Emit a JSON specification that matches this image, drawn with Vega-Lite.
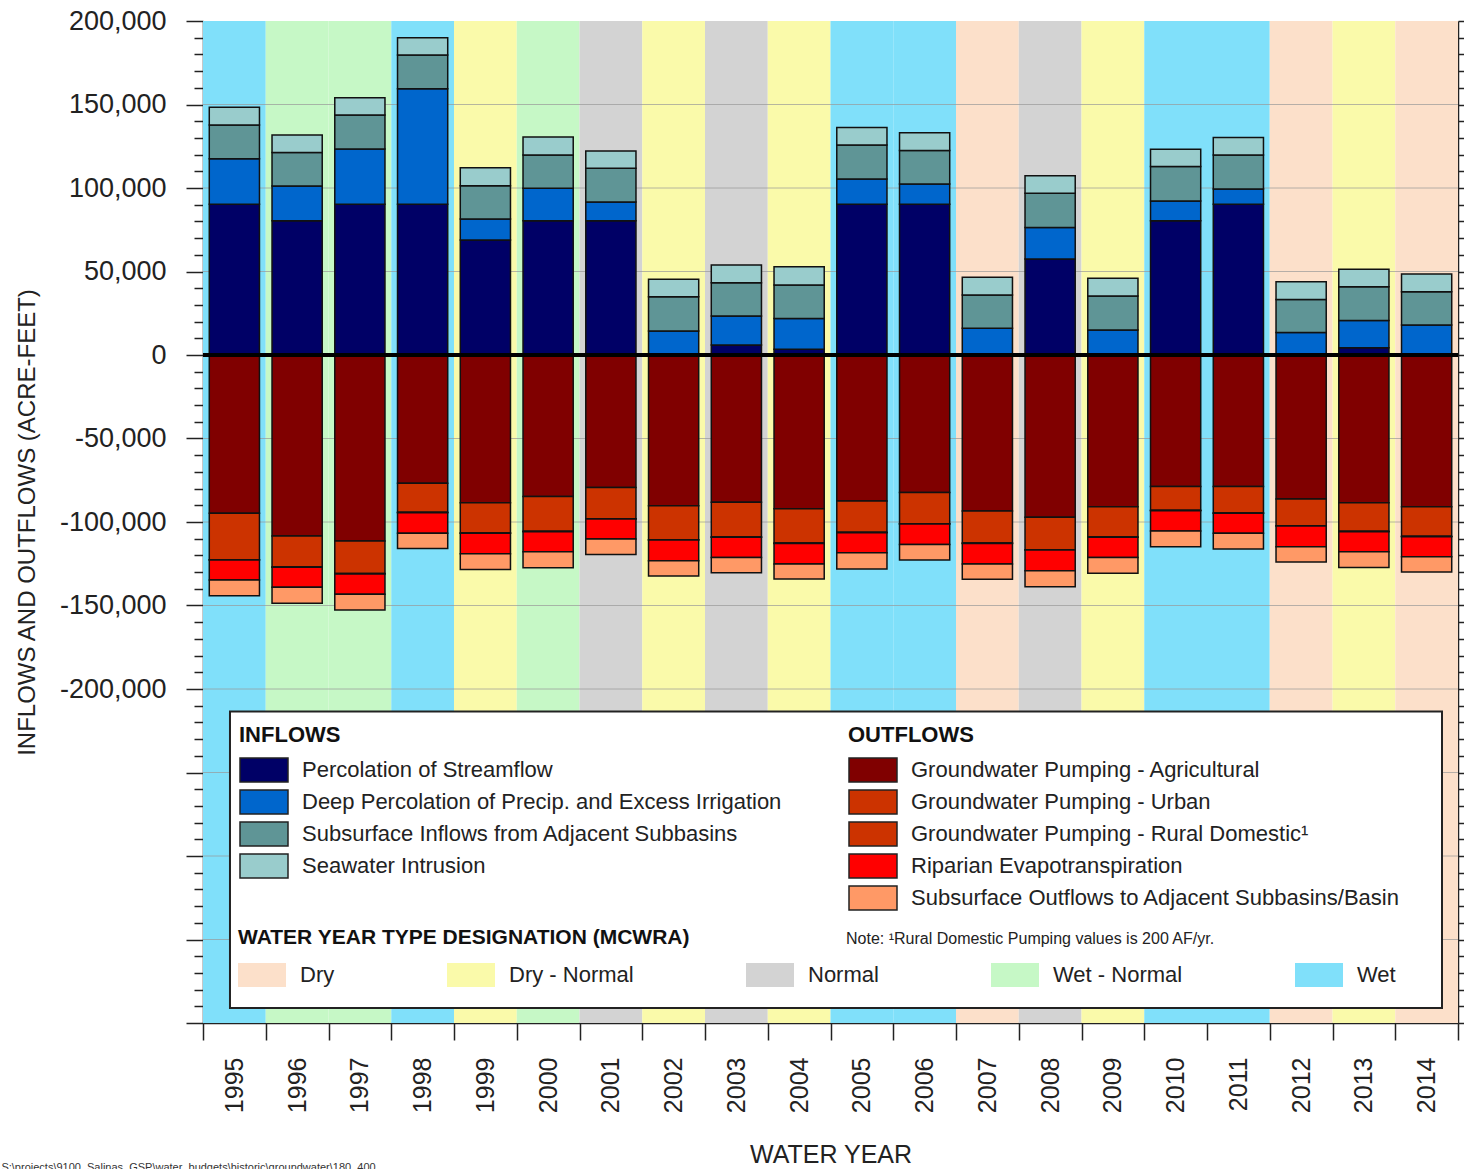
{
  "$schema": "https://vega.github.io/schema/vega-lite/v6.json",
  "width": 1255,
  "height": 1002,
  "autosize": "none",
  "padding": {"left": 203, "top": 21, "right": 6, "bottom": 146},
  "background": "white",
  "config": {"font": "Liberation Sans", "view": {"stroke": null}},
  "title": {"text": "S:\\projects\\9100_Salinas_GSP\\water_budgets\\historic\\groundwater\\180_400", "orient": "bottom", "anchor": "start", "frame": "bounds", "fontSize": 11, "fontWeight": "normal", "color": "#333", "offset": 0, "dy": -6, "dx": -14},
  "datasets": {
    "years": [
      {"year": 1995, "type": "Wet"}, {"year": 1996, "type": "Wet - Normal"}, {"year": 1997, "type": "Wet - Normal"}, {"year": 1998, "type": "Wet"},
      {"year": 1999, "type": "Dry - Normal"}, {"year": 2000, "type": "Wet - Normal"}, {"year": 2001, "type": "Normal"}, {"year": 2002, "type": "Dry - Normal"},
      {"year": 2003, "type": "Normal"}, {"year": 2004, "type": "Dry - Normal"}, {"year": 2005, "type": "Wet"}, {"year": 2006, "type": "Wet"},
      {"year": 2007, "type": "Dry"}, {"year": 2008, "type": "Normal"}, {"year": 2009, "type": "Dry - Normal"}, {"year": 2010, "type": "Wet"},
      {"year": 2011, "type": "Wet"}, {"year": 2012, "type": "Dry"}, {"year": 2013, "type": "Dry - Normal"}, {"year": 2014, "type": "Dry"}
    ],
    "inflows": [
      {"year": 1995, "a": 90200, "b": 27300, "c": 20200, "d": 10600},
      {"year": 1996, "a": 80400, "b": 20800, "c": 20000, "d": 10500},
      {"year": 1997, "a": 90200, "b": 33200, "c": 20300, "d": 10300},
      {"year": 1998, "a": 90200, "b": 69300, "c": 20100, "d": 10400},
      {"year": 1999, "a": 68900, "b": 12500, "c": 20000, "d": 10700},
      {"year": 2000, "a": 80400, "b": 19400, "c": 20000, "d": 10700},
      {"year": 2001, "a": 80400, "b": 11200, "c": 20200, "d": 10400},
      {"year": 2002, "a": 0, "b": 14400, "c": 20500, "d": 10400},
      {"year": 2003, "a": 6000, "b": 17400, "c": 19900, "d": 10600},
      {"year": 2004, "a": 3400, "b": 18500, "c": 20000, "d": 11000},
      {"year": 2005, "a": 90200, "b": 15200, "c": 20300, "d": 10600},
      {"year": 2006, "a": 90200, "b": 12200, "c": 20000, "d": 10700},
      {"year": 2007, "a": 0, "b": 16000, "c": 19900, "d": 10600},
      {"year": 2008, "a": 57500, "b": 18900, "c": 20400, "d": 10600},
      {"year": 2009, "a": 0, "b": 15000, "c": 20300, "d": 10600},
      {"year": 2010, "a": 80400, "b": 11800, "c": 20600, "d": 10400},
      {"year": 2011, "a": 90200, "b": 9200, "c": 20400, "d": 10500},
      {"year": 2012, "a": 0, "b": 13400, "c": 19900, "d": 10600},
      {"year": 2013, "a": 4400, "b": 16200, "c": 20300, "d": 10400},
      {"year": 2014, "a": 0, "b": 18000, "c": 19900, "d": 10600}
    ],
    "outflows": [
      {"year": 1995, "a": -94800, "b": -27800, "c": -200, "d": -11900, "e": -9400},
      {"year": 1996, "a": -108400, "b": -18500, "c": -200, "d": -12000, "e": -9600},
      {"year": 1997, "a": -111400, "b": -19500, "c": -200, "d": -12200, "e": -9400},
      {"year": 1998, "a": -76800, "b": -17400, "c": -200, "d": -12400, "e": -9000},
      {"year": 1999, "a": -88400, "b": -18200, "c": -200, "d": -12200, "e": -9400},
      {"year": 2000, "a": -84800, "b": -20800, "c": -200, "d": -12000, "e": -9600},
      {"year": 2001, "a": -79400, "b": -18600, "c": -200, "d": -12000, "e": -9200},
      {"year": 2002, "a": -90200, "b": -20400, "c": -200, "d": -12400, "e": -9100},
      {"year": 2003, "a": -88200, "b": -20800, "c": -200, "d": -12000, "e": -9200},
      {"year": 2004, "a": -92000, "b": -20600, "c": -200, "d": -12300, "e": -9000},
      {"year": 2005, "a": -87400, "b": -18800, "c": -200, "d": -12000, "e": -9700},
      {"year": 2006, "a": -82400, "b": -18600, "c": -200, "d": -12200, "e": -9400},
      {"year": 2007, "a": -93400, "b": -19200, "c": -200, "d": -12300, "e": -9200},
      {"year": 2008, "a": -97200, "b": -19400, "c": -200, "d": -12400, "e": -9600},
      {"year": 2009, "a": -90800, "b": -18200, "c": -200, "d": -12000, "e": -9500},
      {"year": 2010, "a": -78800, "b": -14200, "c": -200, "d": -12200, "e": -9400},
      {"year": 2011, "a": -78800, "b": -15800, "c": -200, "d": -12000, "e": -9400},
      {"year": 2012, "a": -86200, "b": -16000, "c": -200, "d": -12400, "e": -9200},
      {"year": 2013, "a": -88400, "b": -17200, "c": -200, "d": -12000, "e": -9400},
      {"year": 2014, "a": -90800, "b": -17800, "c": -200, "d": -12000, "e": -9200}
    ],
    "infcat": [
      {"key": "a", "cat": "Percolation of Streamflow"},
      {"key": "b", "cat": "Deep Percolation of Precip. and Excess Irrigation"},
      {"key": "c", "cat": "Subsurface Inflows from Adjacent Subbasins"},
      {"key": "d", "cat": "Seawater Intrusion"}
    ],
    "outcat": [
      {"key": "a", "cat": "Groundwater Pumping - Agricultural"},
      {"key": "b", "cat": "Groundwater Pumping - Urban"},
      {"key": "c", "cat": "Groundwater Pumping - Rural Domestic¹"},
      {"key": "d", "cat": "Riparian Evapotranspiration"},
      {"key": "e", "cat": "Subsurface Outflows to Adjacent Subbasins/Basin"}
    ],
    "grid": [
      {"v": -350000}, {"v": -300000}, {"v": -250000}, {"v": -200000}, {"v": -150000}, {"v": -100000}, {"v": -50000},
      {"v": 50000}, {"v": 100000}, {"v": 150000}
    ]
  },
  "layer": [
    {
      "data": {"name": "years"},
      "mark": {"type": "bar", "width": {"band": 1}},
      "encoding": {
        "x": {"field": "year", "type": "ordinal", "scale": {"paddingInner": 0, "paddingOuter": 0},
          "axis": {"orient": "bottom", "title": "WATER YEAR", "titleFontSize": 25, "titleFontWeight": "normal", "titleColor": "#222", "titlePadding": 30,
            "labelAngle": -90, "labelFontSize": 25, "labelColor": "#222", "labelPadding": 17,
            "tickBand": "extent", "tickSize": 17, "tickColor": "#222", "tickWidth": 1.5, "domainColor": "#222", "domainWidth": 1.5}},
        "y": {"datum": 200000, "type": "quantitative", "scale": {"domain": [-400000, 200000], "nice": false, "zero": false},
          "axis": {"orient": "left", "title": "INFLOWS AND OUTFLOWS (ACRE-FEET)", "titleFontSize": 24, "titleFontWeight": "normal", "titleColor": "#222", "titlePadding": 20,
            "values": [-400000,-390000,-380000,-370000,-360000,-350000,-340000,-330000,-320000,-310000,-300000,-290000,-280000,-270000,-260000,-250000,-240000,-230000,-220000,-210000,-200000,-190000,-180000,-170000,-160000,-150000,-140000,-130000,-120000,-110000,-100000,-90000,-80000,-70000,-60000,-50000,-40000,-30000,-20000,-10000,0,10000,20000,30000,40000,50000,60000,70000,80000,90000,100000,110000,120000,130000,140000,150000,160000,170000,180000,190000,200000],
            "format": ",d",
            "labelExpr": "(datum.value % 50000 === 0 && datum.value >= -200000) ? replace(datum.label, '\u2212', '-') : ''",
            "labelFontSize": 27, "labelColor": "#222", "labelPadding": 20, "labelOverlap": false, "labelFlush": false,
            "tickSize": {"condition": {"test": "datum.value % 50000 === 0", "value": 17}, "value": 9},
            "tickColor": "#222", "tickWidth": 1.5, "domainColor": "#222", "domainWidth": 1.5, "grid": false}},
        "y2": {"datum": -400000},
        "color": {"field": "type", "type": "nominal",
          "scale": {"domain": ["Dry", "Dry - Normal", "Normal", "Wet - Normal", "Wet"], "range": ["#FCE0CA", "#FAFAAA", "#D3D3D3", "#C6F8C6", "#80E0FA"]},
          "legend": {"title": "WATER YEAR TYPE DESIGNATION (MCWRA)", "orient": "none", "legendX": 35, "legendY": 906, "direction": "horizontal", "columns": 5, "columnPadding": 112,
            "titleFontSize": 21, "titleFontWeight": "bold", "titleColor": "#111", "titlePadding": 3, "titleLimit": 1000, "padding": 0,
            "labelFontSize": 22, "labelColor": "#222", "labelOffset": 14, "labelLimit": 600,
            "symbolType": "M-1,-0.5H1V0.5H-1Z", "symbolSize": 2304, "symbolStrokeWidth": 0, "symbolOpacity": 1}}
      }
    },
    {
      "data": {"name": "grid"},
      "mark": {"type": "rule", "color": "#999", "strokeWidth": 1, "opacity": 0.7},
      "encoding": {"y": {"field": "v", "type": "quantitative", "axis": null}}
    },
    {
      "data": {"name": "inflows"},
      "transform": [
        {"fold": ["a", "b", "c", "d"], "as": ["key", "v"]},
        {"lookup": "key", "from": {"data": {"name": "infcat"}, "key": "key", "fields": ["cat"]}}
      ],
      "mark": {"type": "bar", "width": {"band": 0.8}, "stroke": "#111", "strokeWidth": 1.5},
      "encoding": {
        "x": {"field": "year", "type": "ordinal", "axis": null},
        "y": {"field": "v", "type": "quantitative", "stack": "zero", "axis": null},
        "order": {"field": "key", "type": "nominal", "sort": "ascending"},
        "color": {"field": "cat", "type": "nominal",
          "scale": {"domain": ["Percolation of Streamflow", "Deep Percolation of Precip. and Excess Irrigation", "Subsurface Inflows from Adjacent Subbasins", "Seawater Intrusion"],
            "range": ["#000066", "#0066CC", "#5F9596", "#99CCCC"]},
          "legend": {"title": "INFLOWS", "orient": "none", "legendX": 36, "legendY": 704, "direction": "vertical",
            "titleFontSize": 22, "titleFontWeight": "bold", "titleColor": "#111", "titlePadding": 10, "padding": 0,
            "labelFontSize": 22, "labelColor": "#222", "labelOffset": 37, "labelLimit": 800, "rowPadding": 2,
            "symbolType": "M-1,-1H3V1H-1Z", "symbolSize": 576, "symbolStrokeColor": "#222", "symbolStrokeWidth": 1.5, "symbolOpacity": 1}}
      }
    },
    {
      "data": {"name": "outflows"},
      "transform": [
        {"fold": ["a", "b", "c", "d", "e"], "as": ["key", "v"]},
        {"lookup": "key", "from": {"data": {"name": "outcat"}, "key": "key", "fields": ["cat"]}}
      ],
      "mark": {"type": "bar", "width": {"band": 0.8}, "stroke": "#111", "strokeWidth": 1.5},
      "encoding": {
        "x": {"field": "year", "type": "ordinal", "axis": null},
        "y": {"field": "v", "type": "quantitative", "stack": "zero", "axis": null},
        "order": {"field": "key", "type": "nominal", "sort": "ascending"},
        "color": {"field": "cat", "type": "nominal",
          "scale": {"domain": ["Groundwater Pumping - Agricultural", "Groundwater Pumping - Urban", "Groundwater Pumping - Rural Domestic¹", "Riparian Evapotranspiration", "Subsurface Outflows to Adjacent Subbasins/Basin"],
            "range": ["#800000", "#CC3300", "#CC3300", "#FF0000", "#FF9966"]},
          "legend": {"title": "OUTFLOWS", "orient": "none", "legendX": 645, "legendY": 704, "direction": "vertical",
            "titleFontSize": 22, "titleFontWeight": "bold", "titleColor": "#111", "titlePadding": 10, "padding": 0,
            "labelFontSize": 22, "labelColor": "#222", "labelOffset": 37, "labelLimit": 800, "rowPadding": 2,
            "symbolType": "M-1,-1H3V1H-1Z", "symbolSize": 576, "symbolStrokeColor": "#222", "symbolStrokeWidth": 1.5, "symbolOpacity": 1}}
      }
    },
    {
      "data": {"values": [{}]},
      "mark": {"type": "rule", "color": "#000", "strokeWidth": 4},
      "encoding": {
        "y": {"datum": 0, "type": "quantitative",
          "axis": {"orient": "right", "title": null, "labels": false, "grid": false,
            "values": [-400000,-390000,-380000,-370000,-360000,-350000,-340000,-330000,-320000,-310000,-300000,-290000,-280000,-270000,-260000,-250000,-240000,-230000,-220000,-210000,-200000,-190000,-180000,-170000,-160000,-150000,-140000,-130000,-120000,-110000,-100000,-90000,-80000,-70000,-60000,-50000,-40000,-30000,-20000,-10000,0,10000,20000,30000,40000,50000,60000,70000,80000,90000,100000,110000,120000,130000,140000,150000,160000,170000,180000,190000,200000],
            "tickSize": 7, "tickColor": "#222", "tickWidth": 1.5, "domainColor": "#222", "domainWidth": 1.5}}
      }
    },
    {
      "data": {"values": [{}]},
      "mark": {"type": "rect", "fill": "white", "stroke": "#222", "strokeWidth": 2},
      "encoding": {
        "x": {"datum": 1995, "type": "ordinal", "bandPosition": 0.43, "axis": null},
        "x2": {"datum": 2014, "bandPosition": 0.745},
        "y": {"datum": -213500, "type": "quantitative", "axis": null},
        "y2": {"datum": -391000}
      }
    },
    {
      "data": {"values": [{"note": "Note: ¹Rural Domestic Pumping values is 200 AF/yr."}]},
      "mark": {"type": "text", "align": "left", "baseline": "middle", "fontSize": 16, "color": "#222"},
      "encoding": {
        "x": {"datum": 2005, "type": "ordinal", "bandPosition": 0.247, "axis": null},
        "y": {"datum": -349700, "type": "quantitative", "axis": null},
        "text": {"field": "note"}
      }
    }
  ],
  "resolve": {"scale": {"color": "independent"}, "axis": {"x": "independent", "y": "independent"}}
}
